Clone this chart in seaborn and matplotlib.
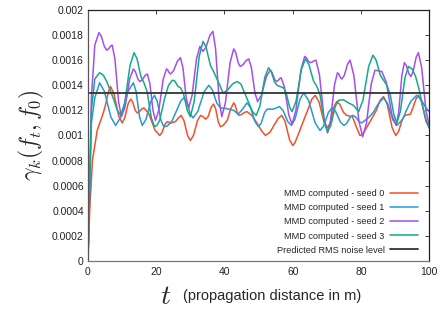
import numpy as np
import pandas as pd
import matplotlib
matplotlib.use("Agg")
import matplotlib.pyplot as plt
import seaborn as sns

labels = ["MMD computed - seed 0", "MMD computed - seed 1",
          "MMD computed - seed 2", "MMD computed - seed 3"]
noise_label = "Predicted RMS noise level"
noise_level = 0.001335

# values, in units of 1e-5
t_seed0 = [0, 0.5, 1.3, 2.7, 4.5, 5.1, 6.0, 6.6, 7.62, 8.98, 10.0, 10.75, 11.75, 12.5, 13.07, 13.83,
           14.4, 15.0, 15.8, 16.4, 17.78, 19.62, 21.0, 21.66, 22.54, 23.2, 24.4, 25.6, 26.5, 27.3,
           28.11, 29.19, 30.0, 30.9, 32.1, 33.0, 33.7, 34.5, 35.2, 36.1, 36.8, 37.4, 38.2, 38.8,
           39.6, 40.8, 41.8, 42.7, 43.15, 43.75, 44.2, 44.9, 45.9, 46.6, 48.0, 49.5, 50.8, 52.0,
           53.3, 54.5, 55.7, 56.8, 57.76, 59.04, 60.0, 60.6, 61.5, 63.2, 64.5, 65.6, 66.6, 67.68,
           69.12, 70.2, 71.01, 72.09, 72.9, 73.77, 74.93, 75.8, 76.6, 77.5, 78.6, 79.7, 80.5, 82.0,
           84.5, 85.6, 86.6, 87.68, 89.12, 90.2, 91.01, 92.09, 92.9, 94.5, 95.2, 96.1, 96.8, 97.76,
           99.04, 100]
v_seed0 = [0, 40, 80, 104, 118, 124, 135, 139, 133.2, 115.8, 110, 113.8, 125.2, 129, 126.8, 120.2,
           118, 118.8, 121.2, 122, 117.6, 104.4, 100, 102.2, 108.8, 111, 110, 111, 114, 116,
           112, 100, 96, 100, 112, 116, 115, 113, 115, 122.6, 125, 121.4, 110.6, 107,
           108, 112, 121, 126, 124, 118, 116, 116.6, 118.4, 119, 116, 110, 104, 100,
           102.5, 108, 113.5, 116, 111.2, 96.8, 92, 94, 100, 112, 121, 129, 132, 126.8,
           111.2, 106, 110.2, 122.8, 127, 124.8, 118.2, 116, 115.5, 115, 107, 100, 101, 108,
           120, 128, 131, 124.8, 106.2, 100, 103.2, 112.8, 116, 117, 122, 129, 132, 126.8,
           111.2, 106]

t_seed1 = [0, 1.0, 2.0, 3.4, 4.81, 6.69, 8.1, 9.66, 11.74, 13.3, 14.08, 15.12, 15.9, 16.98, 18.42,
           19.5, 20.31, 21.39, 22.2, 23.2, 24.5, 26.0, 27.2, 28.1, 28.91, 29.99, 30.8, 32.18, 34.02,
           35.4, 36.42, 37.78, 38.8, 40.5, 42.7, 44.0, 45.3, 46.6, 47.62, 48.98, 50.0, 50.75, 51.75,
           52.5, 54.3, 56.1, 57.15, 58.55, 59.6, 60.68, 62.12, 63.2, 64.64, 66.56, 68.0, 69.05,
           70.45, 71.5, 72.55, 73.95, 75.0, 75.8, 76.8, 77.6, 78.4, 79.4, 80.2, 82.1, 83.5, 85.0,
           86.6, 87.77, 89.33, 90.5, 92.2, 93.3, 94.6, 96.3, 97.4, 98.9, 100]
v_seed1 = [0, 110, 130, 142, 135.2, 114.8, 108, 114.8, 135.2, 142, 135.2, 114.8, 108, 112.8, 127.2,
           132, 127, 112, 107, 107.5, 111, 120, 127.5, 130, 126.8, 117.2, 114, 119.2, 134.8,
           140, 136.4, 125.6, 122, 121.5, 120, 117, 121, 126, 122.2, 110.8, 107, 109.8, 118.2,
           121, 121, 123, 120, 111, 108, 113.2, 128.8, 134, 128, 110, 104, 107.6,
           118.4, 122, 119.2, 110.8, 108, 109.6, 114.4, 116, 114.8, 111.2, 110, 114, 118, 125,
           130, 125.6, 112.4, 108, 112.8, 120, 127.2, 132, 129.4, 122.6, 119]

t_seed2 = [0, 1.0, 2.0, 3.2, 3.89, 4.81, 5.5, 5.98, 6.62, 7.1, 7.91, 8.99, 9.8, 10.85, 12.25, 13.3,
           13.87, 14.63, 15.2, 15.86, 16.74, 17.4, 18.12, 19.08, 19.8, 20.76, 22.04, 23.0, 23.36,
           23.84, 24.2, 25.07, 26.23, 27.1, 27.82, 28.78, 29.5, 30.49, 31.81, 32.8, 33.25, 33.7,
           34.57, 35.73, 36.6, 37.38, 38.42, 39.2, 40.25, 41.65, 42.7, 43.27, 44.03, 44.6, 45.35,
           46.35, 47.1, 47.88, 48.92, 49.7, 50.81, 52.29, 53.4, 53.94, 54.66, 55.2, 55.62, 56.18,
           56.6, 57.56, 58.84, 59.8, 60.91, 62.39, 63.5, 63.98, 64.62, 65.1, 65.61, 66.29, 66.8,
           67.82, 69.18, 70.2, 71.07, 72.23, 73.1, 73.49, 74.01, 74.4, 75.12, 76.08, 76.8, 77.91,
           79.39, 80.5, 81.58, 83.02, 84.1, 84.7, 85.5, 86.1, 87.4, 89.04, 90.3, 91.02, 91.98,
           92.7, 93.27, 94.03, 94.6, 95.26, 96.14, 96.8, 97.76, 99.04, 100]
v_seed2 = [0, 130, 172, 182, 179.2, 170.8, 168, 168.8, 171.2, 172, 160.6, 126.4, 115, 122.6, 145.4, 153,
           151, 145, 143, 144.2, 147.8, 149, 141.6, 119.4, 112, 120.2, 144.8, 153, 152.2,
           149.8, 149, 151.6, 159.4, 162, 154, 130, 122, 131.8, 161.2, 171, 169, 167,
           170.2, 179.8, 183, 169.4, 128.6, 115, 125.8, 158.2, 169, 166.2, 157.8, 155, 156.2,
           159.8, 161, 154.2, 133.8, 127, 132, 147, 152, 150.2, 144.8, 143, 143.6, 145.4,
           146, 138.6, 116.4, 109, 119.8, 152.2, 163, 162, 159, 158, 158.4, 159.6, 160,
           148.4, 113.6, 102, 111.6, 140.4, 150, 149, 146, 145, 148, 157, 160, 147.8,
           111.2, 99, 109.6, 141.4, 152, 151.8, 151.2, 151, 142.4, 116.6, 108, 118, 148,
           158, 155.8, 149.2, 147, 150.8, 162.2, 166, 154.4, 119.6, 108]

t_seed3 = [0, 1.0, 2.0, 3.4, 4.5, 5.5, 6.5, 7.5, 8.6, 9.6, 10.77, 12.33, 13.5, 14.37, 15.53, 16.4,
           17.33, 18.57, 19.5, 20.2, 21.0, 22.5, 23.6, 24.7, 25.4, 26.4, 27.1, 27.97, 29.13, 30.0,
           31.11, 32.59, 33.7, 34.63, 35.87, 36.8, 37.8, 38.8, 39.5, 40.76, 42.44, 43.7, 44.8,
           46.5, 48.2, 49.3, 50.38, 51.82, 52.9, 53.65, 54.65, 55.4, 56.3, 57.3, 58.05, 59.05,
           59.8, 60.97, 62.53, 63.7, 64.72, 66.08, 67.1, 68.03, 69.27, 70.2, 71.16, 72.44, 73.4,
           74.8, 76.3, 77.8, 79.3, 80.56, 82.24, 83.5, 84.43, 85.67, 86.6, 87.6, 88.6, 89.6, 90.5,
           91.52, 92.88, 93.9, 95.0, 96.0, 97.0, 98.0, 99.0, 100]
v_seed3 = [0, 120, 145, 150, 148, 143, 136, 129, 120, 116, 126, 156, 166, 161.2, 146.8, 142,
           135, 114, 107, 108, 112, 130, 140, 144, 143.5, 139, 138, 133.4, 119.6, 115,
           127, 163, 175, 170.2, 155.8, 151, 145, 139, 134, 135.8, 141.2, 143, 141,
           130, 119, 116, 123.6, 146.4, 154, 151.2, 142.8, 140, 139, 138, 134.2, 122.8,
           119, 127.4, 152.6, 161, 156.6, 143.4, 139, 131.8, 110.2, 103, 108, 123, 128,
           128.5, 126, 124, 119, 128, 155, 164, 160, 148, 144, 140, 132, 117, 110,
           119, 146, 155, 153, 147, 137, 124, 113, 106]

colors = ["#f2502c", "#2898d4", "#a64ded", "#16a98a"]

frames = []
for lab, ts, vs in zip(labels, [t_seed0, t_seed1, t_seed2, t_seed3],
                       [v_seed0, v_seed1, v_seed2, v_seed3]):
    frames.append(pd.DataFrame({"t": ts, "v": np.array(vs) * 1e-5, "series": lab}))
df = pd.concat(frames, ignore_index=True)

sns.set_style("white")
plt.rcParams['font.family'] = ['Liberation Sans', 'DejaVu Sans']
plt.rcParams['mathtext.fontset'] = 'cm'

fig = plt.figure(figsize=(4.43, 3.12), dpi=100)
ax = fig.add_axes([0.1986, 0.1635, 0.7704, 0.8045])

sns.lineplot(data=df, x="t", y="v", hue="series", palette=colors, hue_order=labels,
             estimator=None, sort=False, linewidth=1.1, ax=ax)
ax.axhline(noise_level, color="#333333", linewidth=1.3, label=noise_label)

ax.set_xlim(0, 100)
ax.set_ylim(0, 0.002)
ax.set_xticks([0, 20, 40, 60, 80, 100])
ax.set_yticks(np.arange(0, 0.00201, 0.0002))
ax.set_yticklabels(["0", "0.0002", "0.0004", "0.0006", "0.0008", "0.001",
                    "0.0012", "0.0014", "0.0016", "0.0018", "0.002"])
ax.tick_params(direction="in", length=3, width=0.6, top=True, right=True,
               labelsize=7.5, colors="#222222", pad=3)
ax.tick_params(axis="x", pad=4)
for s in ax.spines.values():
    s.set_color("#222222")
    s.set_linewidth(0.9)
ax.spines["left"].set_color("#555555")
ax.spines["bottom"].set_color("#777777")

ax.set_xlabel("")
ax.set_ylabel(r"$\gamma_k(f_t, f_0)$", fontsize=17, labelpad=4)

fig.text(0.374, 0.025, r"$t$", fontsize=20, ha="center", va="baseline")
fig.text(0.413, 0.04, "(propagation distance in m)", fontsize=10.5, ha="left", va="baseline")

handles, labs = ax.get_legend_handles_labels()
leg = ax.legend(handles, labs, loc="lower right", frameon=False, markerfirst=False,
                fontsize=6.6, handlelength=3.0, handletextpad=0.6, labelspacing=0.55,
                borderaxespad=0.3, bbox_to_anchor=(0.985, 0.0))

fig.savefig("out.png", dpi=100)
